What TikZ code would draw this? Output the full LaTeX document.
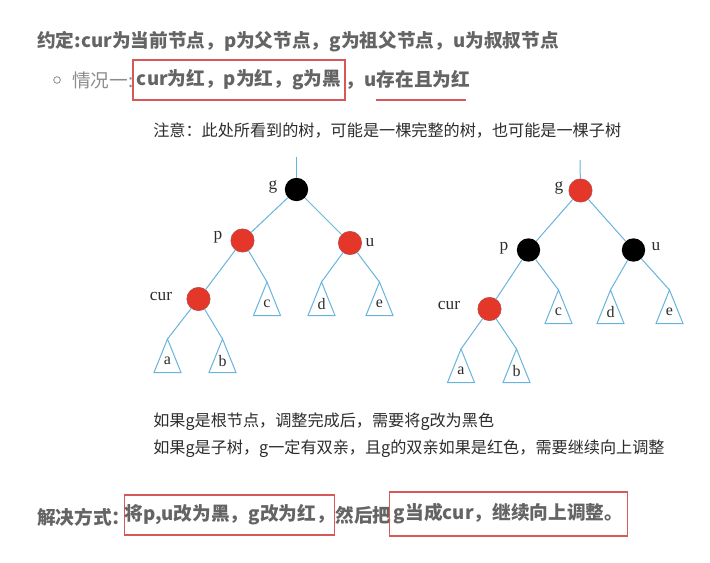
\documentclass[tikz,border=0pt]{standalone}
\usepackage{fontspec}
\setmainfont{Noto Sans CJK SC}
\newfontfamily\treefont{Liberation Serif}
\usepackage{tikz}
\usetikzlibrary{positioning, calc}

\definecolor{HeadGray}{RGB}{100,100,100}
\definecolor{LightGray}{RGB}{140,140,140}
\definecolor{TextDark}{RGB}{45,45,45}
\definecolor{BoxRed}{RGB}{214,88,88}
\definecolor{NodeRed}{RGB}{228,55,42}
\definecolor{EdgeBlue}{RGB}{105,180,222}

\begin{document}
\begin{tikzpicture}[
  x=0.75pt, y=-0.75pt,
  headline/.style={anchor=west, inner sep=0pt, font=\fontsize{14}{16}\selectfont\bfseries, text=HeadGray},
  noteline/.style={anchor=west, inner sep=0pt, font=\fontsize{12.1}{14}\selectfont, text=TextDark},
  redbox/.style={draw=BoxRed, line width=0.8pt, inner sep=0pt, font=\fontsize{14}{16}\selectfont\bfseries, text=HeadGray},
  rednode/.style={circle, minimum size=17.5pt, inner sep=0pt, draw=gray!60!red, fill=NodeRed},
  blknode/.style={circle, minimum size=17.5pt, inner sep=0pt, fill=black},
  edge/.style={draw=EdgeBlue, line width=0.75pt},
  tag/.style={font=\treefont\fontsize{13}{14}\selectfont, text=TextDark, inner sep=0pt},
  leaf/.style={font=\treefont\fontsize{12}{14}\selectfont, text=TextDark, inner sep=0pt}
]
\useasboundingbox[fill=white] (0,0) rectangle (710,563);

% Heading lines
\node[headline] (convention) at (37,42) {约定:cur为当前节点，p为父节点，g为祖父节点，u为叔叔节点};
\node[circle, draw=LightGray, line width=0.6pt, minimum size=5pt, inner sep=0pt] (bullet) at (57,80) {};
\node[headline, font=\fontsize{14}{16}\selectfont, text=LightGray] (case) at (72,80) {情况一:};
\node[redbox, minimum width=159pt, minimum height=30pt] (caseone) at (239,80) {cur为红，p为红，g为黑};
\node[headline, anchor=west] (uncle) at (caseone.east) {，u存在且为红};
\draw[BoxRed, line width=1pt] ($(uncle.west)+(30,20)$) -- ($(uncle.east)+(-4,20)$);

\node[noteline] (note) at (153,131) {注意：此处所看到的树，可能是一棵完整的树，也可能是一棵子树};

% Left tree: before
\coordinate (top1) at (296.5,157);
\node[blknode] (g1) at (296.5,189.5) {};
\node[rednode] (p1) at (242.5,240.5) {};
\node[rednode] (u1) at (350,243) {};
\node[rednode] (cur1) at (198.5,299) {};
\node[tag] (g1lbl) at (273,187) {g};
\node[tag] (p1lbl) at (218,237) {p};
\node[tag] (u1lbl) at (370,243) {u};
\node[tag] (cur1lbl) at (161,296) {cur};
\coordinate (a1) at (167.5,339);
\coordinate (b1) at (222.5,339);
\coordinate (c1) at (267,282);
\coordinate (d1) at (321.5,282);
\coordinate (e1) at (379.5,282);

% Right tree: after recolouring
\coordinate (top2) at (580,160);
\node[rednode] (g2) at (580.5,190.5) {};
\node[blknode] (p2) at (528.5,250) {};
\node[blknode] (u2) at (633.5,250) {};
\node[rednode] (cur2) at (489.5,309) {};
\node[tag] (g2lbl) at (559,188) {g};
\node[tag] (p2lbl) at (504,248) {p};
\node[tag] (u2lbl) at (656,247) {u};
\node[tag] (cur2lbl) at (449,305) {cur};
\coordinate (a2) at (461,349);
\coordinate (b2) at (516.5,349);
\coordinate (c2) at (558.5,290);
\coordinate (d2) at (610.5,290);
\coordinate (e2) at (669.5,290);

% Edges
\foreach \i in {1,2} {
  \draw[edge] (top\i) -- (g\i);
  \draw[edge] (g\i) -- (p\i);
  \draw[edge] (g\i) -- (u\i);
  \draw[edge] (p\i) -- (cur\i);
  \draw[edge] (p\i) -- (c\i);
  \draw[edge] (u\i) -- (d\i);
  \draw[edge] (u\i) -- (e\i);
  \draw[edge] (cur\i) -- (a\i);
  \draw[edge] (cur\i) -- (b\i);
}

% Subtrees
\foreach \t/\l in {a1/a, b1/b, c1/c, d1/d, e1/e, a2/a, b2/b, c2/c, d2/d, e2/e} {
  \draw[edge] (\t) -- ++(-13.5,33.5) -- ++(27,0) -- cycle;
  \node[leaf] (\t lbl) at ($(\t)+(0,22)$) {\l};
}

% Notes below
\node[noteline] (rootnote) at (153,422) {如果g是根节点，调整完成后，需要将g改为黑色};
\node[noteline] (subnote) at (153,449) {如果g是子树，g一定有双亲，且g的双亲如果是红色，需要继续向上调整};

% Solution
\node[headline] (solve) at (37,517) {解决方式：};
\node[redbox, minimum width=155pt, minimum height=30pt] (fixone) at (229.5,515) {将p,u改为黑，g改为红，};
\node[headline, anchor=west] (then) at (fixone.east) {然后把};
\node[redbox, minimum width=178pt, minimum height=33pt] (fixtwo) at (508.5,514) {g当成cur，继续向上调整。};

\end{tikzpicture}
\end{document}
